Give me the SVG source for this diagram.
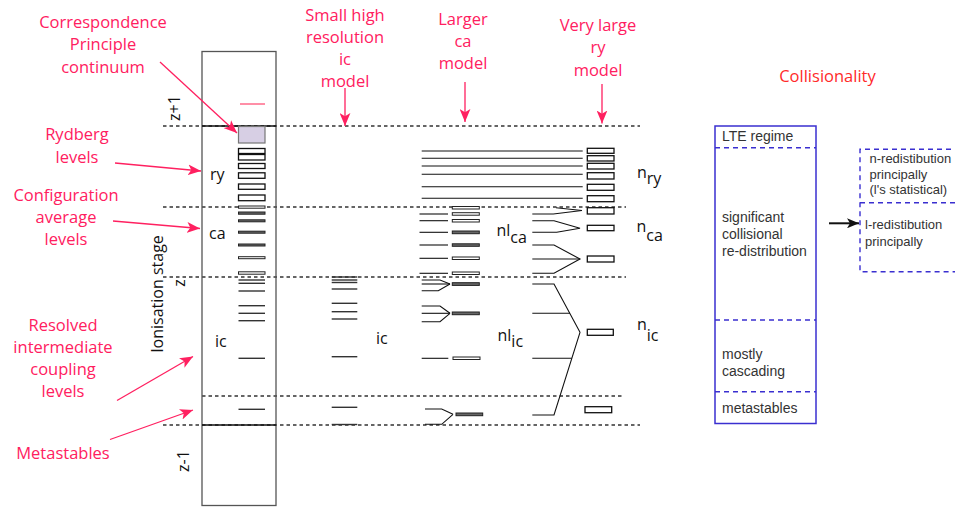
<svg xmlns="http://www.w3.org/2000/svg" width="955" height="507" viewBox="0 0 955 507">
<style>
.pk{font-family:"Open Sans","Liberation Sans",sans-serif;font-size:16.5px;fill:#ff2060;text-anchor:middle}
.bk{font-family:"Open Sans","Liberation Sans",sans-serif;font-size:16px;fill:#111}
.cl{font-family:"Liberation Sans",Arial,sans-serif;font-size:14px;fill:#333}
.cs{font-family:"Liberation Sans",Arial,sans-serif;font-size:13px;fill:#333}
.dash{stroke:#333;stroke-width:1.3;stroke-dasharray:3.5 3;fill:none}
.lv{stroke:#333;stroke-width:1.4;fill:none}
.thin{stroke:#111;stroke-width:1.1;fill:none}
.bx{stroke:#111;stroke-width:1.3;fill:#fff}
.cb{stroke:#222;stroke-width:1;fill:#666}
.cw{stroke:#222;stroke-width:1;fill:#fff}
.bl{stroke:#3a2fd0;stroke-width:1.5;fill:none}
.bd{stroke:#3a2fd0;stroke-width:1.4;fill:none;stroke-dasharray:5 4}
.pa{stroke:#ff2060;stroke-width:1.3;fill:none}
</style>
<defs>
<marker id="pa" viewBox="0 0 12 10" refX="12" refY="5" markerWidth="13" markerHeight="11" orient="auto" markerUnits="userSpaceOnUse"><path d="M0,0 L12,5 L0,10 L3,5 z" fill="#ff2060"/></marker>
<marker id="ka" viewBox="0 0 12 10" refX="12" refY="5" markerWidth="12" markerHeight="10" orient="auto" markerUnits="userSpaceOnUse"><path d="M0,0 L12,5 L0,10 L3,5 z" fill="#111"/></marker>
</defs>
<rect width="955" height="507" fill="#fff"/>

<g id="stage-boundaries">
<line class="dash" x1="163" y1="126" x2="640" y2="126"/>
<line class="dash" x1="163" y1="207" x2="626" y2="207"/>
<line class="dash" x1="163" y1="277" x2="626" y2="277"/>
<line class="dash" x1="202" y1="396" x2="622" y2="396"/>
<line class="dash" x1="163" y1="425" x2="640" y2="425"/>
</g>

<g id="main-column">
<rect x="202" y="51.5" width="74" height="454" fill="none" stroke="#555" stroke-width="1.3"/>
<line x1="202" y1="126" x2="276" y2="126" stroke="#111" stroke-width="1.6"/>
<line x1="202" y1="425" x2="276" y2="425" stroke="#111" stroke-width="1.6"/>
<line x1="240" y1="104" x2="265" y2="104" stroke="#ff6a8a" stroke-width="1.5"/>
<rect x="238.5" y="126.5" width="26.5" height="16.5" fill="#d7cfe4" stroke="#777" stroke-width="1.2"/>
<rect class="bx" x="238.5" y="148.5" width="26.5" height="5"/>
<rect class="bx" x="238.5" y="154.5" width="26.5" height="5.5"/>
<rect class="bx" x="238.5" y="163.5" width="26.5" height="5"/>
<rect class="bx" x="238.5" y="172.8" width="26.5" height="5.5"/>
<rect class="bx" x="238.5" y="184" width="26.5" height="5.3"/>
<rect class="bx" x="238.5" y="195" width="26.5" height="5.7"/>
<rect class="cw" x="238.5" y="206" width="26.5" height="2.2"/>
<rect class="cb" x="238.5" y="212" width="26.5" height="2.2"/>
<rect class="cb" x="238.5" y="219.8" width="26.5" height="2"/>
<rect class="cb" x="238.5" y="231.2" width="26.5" height="2"/>
<rect class="cb" x="238.5" y="244" width="26.5" height="2"/>
<rect class="cw" x="238.5" y="256.7" width="26.5" height="2"/>
<rect class="cw" x="238.5" y="271.8" width="26.5" height="2.4"/>
<g class="lv">
<line x1="238.5" y1="280" x2="265" y2="280"/>
<line x1="238.5" y1="283.3" x2="265" y2="283.3"/>
<line x1="238.5" y1="291" x2="265" y2="291"/>
<line x1="238.5" y1="305.7" x2="265" y2="305.7"/>
<line x1="238.5" y1="313.3" x2="265" y2="313.3"/>
<line x1="238.5" y1="320.7" x2="265" y2="320.7"/>
<line x1="238.5" y1="358.3" x2="265" y2="358.3"/>
<line x1="238.5" y1="409.3" x2="265" y2="409.3"/>
</g>
<text class="bk" x="210" y="180">ry</text>
<text class="bk" x="209" y="238.5">ca</text>
<text class="bk" x="215" y="347">ic</text>
<text class="bk" transform="translate(180,108) rotate(-90)" text-anchor="middle">z+1</text>
<text class="bk" transform="translate(185,283) rotate(-90)" text-anchor="middle">z</text>
<text class="bk" transform="translate(189,461) rotate(-90)" text-anchor="middle">z-1</text>
<text class="bk" transform="translate(163,294) rotate(-90)" text-anchor="middle">Ionisation stage</text>
</g>

<g id="ic-model">
<g class="lv">
<line x1="331.7" y1="277" x2="357.3" y2="277"/>
<line x1="331.7" y1="280" x2="357.3" y2="280"/>
<line x1="331.7" y1="282.5" x2="357.3" y2="282.5"/>
<line x1="331.7" y1="289" x2="357.3" y2="289"/>
<line x1="331.7" y1="303.3" x2="357.3" y2="303.3"/>
<line x1="331.7" y1="311.7" x2="357.3" y2="311.7"/>
<line x1="331.7" y1="319" x2="357.3" y2="319"/>
<line x1="331.7" y1="356.7" x2="357.3" y2="356.7"/>
<line x1="331.7" y1="407.3" x2="357.3" y2="407.3"/>
<line x1="331.7" y1="424.5" x2="357.3" y2="424.5"/>
</g>
<text class="bk" x="376" y="344">ic</text>
</g>

<g id="ca-model">
<g class="thin">
<line x1="421.7" y1="151" x2="582.7" y2="151"/>
<line x1="421.7" y1="158.3" x2="582.7" y2="158.3"/>
<line x1="421.7" y1="166" x2="582.7" y2="166"/>
<line x1="421.7" y1="174.3" x2="582.7" y2="174.3"/>
<line x1="421.7" y1="186.7" x2="582.7" y2="186.7"/>
<line x1="421.7" y1="198.3" x2="582.7" y2="198.3"/>
<line x1="419.5" y1="214" x2="448" y2="214"/>
<line x1="419.5" y1="220.7" x2="448" y2="220.7"/>
<line x1="419.5" y1="232.3" x2="448" y2="232.3"/>
<line x1="419.5" y1="245" x2="448" y2="245"/>
<line x1="419.5" y1="258.3" x2="448" y2="258.3"/>
<line x1="419.5" y1="273.3" x2="448" y2="273.3"/>
<polyline points="421.7,280 440,280 450,284"/>
<line x1="421.7" y1="284" x2="450" y2="284"/>
<polyline points="421.7,290.7 438.3,290.7 450,284"/>
<polyline points="421.7,306 440,306 450,313.3"/>
<line x1="421.7" y1="313.3" x2="450" y2="313.3"/>
<polyline points="421.7,321.7 440,321.7 450,313.3"/>
<line x1="421.7" y1="358.3" x2="448.3" y2="358.3"/>
<polyline points="425,409 441.7,409 453,414.3"/>
<polyline points="425,424.3 441.7,424.3 453,414.3"/>
</g>
<rect class="cw" x="452.3" y="206.5" width="27" height="2.5"/>
<rect class="cw" x="452.3" y="212.7" width="27" height="2.5"/>
<rect class="cw" x="452.3" y="219.5" width="27" height="2.5"/>
<rect class="cb" x="452.3" y="231" width="27" height="2.7"/>
<rect class="cb" x="452.3" y="243.8" width="27" height="2.5"/>
<rect class="cw" x="452.3" y="257" width="27" height="2.5"/>
<rect class="cw" x="452.3" y="272" width="27" height="2.5"/>
<rect class="cb" x="452.3" y="282.7" width="27" height="2.7"/>
<rect class="cb" x="452.3" y="312" width="27" height="2.7"/>
<rect class="cw" x="453" y="357" width="27" height="2.5"/>
<rect class="cb" x="456" y="413" width="26.7" height="2.7"/>
<text class="bk" x="496.5" y="236">nl<tspan font-size="16" dy="7.3">ca</tspan></text>
<text class="bk" x="497.5" y="340.5">nl<tspan font-size="16" dy="6">ic</tspan></text>
</g>

<g id="ry-model">
<g class="thin">
<polyline points="532.3,214 553.3,214 582,210.5"/>
<line x1="556" y1="207.8" x2="582" y2="210.5"/>
<polyline points="532.3,220.7 554,220.7 580,228.3 556.7,232.3 532.3,232.3"/>
<polyline points="532.3,245 554,245 580,259 554,273.3 532.3,273.3"/>
<line x1="532.3" y1="259" x2="580" y2="259"/>
<polyline points="532.3,284 554,284 580,332.3 554,415 532.3,415"/>
<line x1="532.3" y1="313.3" x2="570" y2="313.3"/>
<line x1="532.3" y1="358.3" x2="571.8" y2="358.3"/>
</g>
<rect class="bx" x="587.3" y="148.3" width="26.7" height="5"/>
<rect class="bx" x="587.3" y="155.7" width="26.7" height="5.3"/>
<rect class="bx" x="587.3" y="163.3" width="26.7" height="5.7"/>
<rect class="bx" x="587.3" y="172.7" width="26.7" height="6.3"/>
<rect class="bx" x="587.3" y="184.3" width="26.7" height="6"/>
<rect class="bx" x="587.3" y="195.7" width="26.7" height="6"/>
<rect class="bx" x="587.3" y="207.7" width="26.7" height="6.3"/>
<rect class="bx" x="587.3" y="225.3" width="26.7" height="5.4"/>
<rect class="bx" x="587.3" y="256" width="26.7" height="6"/>
<rect class="bx" x="587.3" y="329.3" width="26" height="6"/>
<rect class="bx" x="585" y="406.7" width="26.7" height="6"/>
<text class="bk" x="637" y="177.5">n<tspan dy="6.5">ry</tspan></text>
<text class="bk" x="636.5" y="231.5">n<tspan dy="9.5">ca</tspan></text>
<text class="bk" x="637" y="330">n<tspan dy="11">ic</tspan></text>
</g>

<g id="labels">
<text class="pk" x="103" y="28">Correspondence</text>
<text class="pk" x="103" y="50">Principle</text>
<text class="pk" x="103" y="73">continuum</text>
<text class="pk" x="77" y="140">Rydberg</text>
<text class="pk" x="77" y="163">levels</text>
<text class="pk" x="66" y="201">Configuration</text>
<text class="pk" x="66" y="223">average</text>
<text class="pk" x="66" y="245">levels</text>
<text class="pk" x="63" y="331">Resolved</text>
<text class="pk" x="63" y="353">intermediate</text>
<text class="pk" x="63" y="375">coupling</text>
<text class="pk" x="63" y="397">levels</text>
<text class="pk" x="63" y="459">Metastables</text>
<text class="pk" x="345" y="21">Small high</text>
<text class="pk" x="345" y="43">resolution</text>
<text class="pk" x="345" y="65">ic</text>
<text class="pk" x="345" y="87">model</text>
<text class="pk" x="463" y="25">Larger</text>
<text class="pk" x="463" y="47">ca</text>
<text class="pk" x="463" y="69">model</text>
<text class="pk" x="598" y="31">Very large</text>
<text class="pk" x="598" y="53">ry</text>
<text class="pk" x="598" y="76">model</text>
<text x="827.5" y="81.5" font-family="'Open Sans','Liberation Sans',sans-serif" font-size="16.5" fill="#ff2a2a" text-anchor="middle">Collisionality</text>
</g>

<g id="collisionality">
<rect class="bl" x="715" y="126" width="101" height="297.5"/>
<line class="bd" x1="715" y1="147.7" x2="816" y2="147.7"/>
<line class="bd" x1="715" y1="320" x2="816" y2="320"/>
<line class="bd" x1="715" y1="391.7" x2="816" y2="391.7"/>
<text class="cl" x="722" y="141">LTE regime</text>
<text class="cl" x="722" y="222">significant</text>
<text class="cl" x="722" y="239">collisional</text>
<text class="cl" x="722" y="256">re-distribution</text>
<text class="cl" x="722" y="358.5">mostly</text>
<text class="cl" x="722" y="376">cascading</text>
<text class="cl" x="722" y="412.5">metastables</text>
</g>

<g id="redistribution">
<path class="bd" d="M960,149.3 H860 V271.7 H960"/>
<line class="bd" x1="860" y1="202.7" x2="960" y2="202.7"/>
<text class="cs" x="869.5" y="162.5">n-redistibution</text>
<text class="cs" x="869.5" y="179">principally</text>
<text class="cs" x="869.5" y="194">(l's statistical)</text>
<text class="cs" x="865" y="229.3">l-redistibution</text>
<text class="cs" x="865" y="246">principally</text>
</g>

<g id="connectors">
<line class="pa" x1="160" y1="62" x2="237" y2="133" marker-end="url(#pa)"/>
<line class="pa" x1="115" y1="163" x2="201" y2="171" marker-end="url(#pa)"/>
<line class="pa" x1="113" y1="221" x2="200" y2="228.5" marker-end="url(#pa)"/>
<line class="pa" x1="117" y1="400.5" x2="193" y2="356.5" marker-end="url(#pa)"/>
<line class="pa" x1="110" y1="439.5" x2="193" y2="410" marker-end="url(#pa)"/>
<line class="pa" x1="345" y1="88" x2="345" y2="126" marker-end="url(#pa)"/>
<line class="pa" x1="465" y1="82" x2="465" y2="122" marker-end="url(#pa)"/>
<line class="pa" x1="602" y1="84" x2="602" y2="123.5" marker-end="url(#pa)"/>
<line x1="829" y1="223.3" x2="859" y2="223.3" stroke="#111" stroke-width="2" marker-end="url(#ka)"/>
</g>
</svg>
